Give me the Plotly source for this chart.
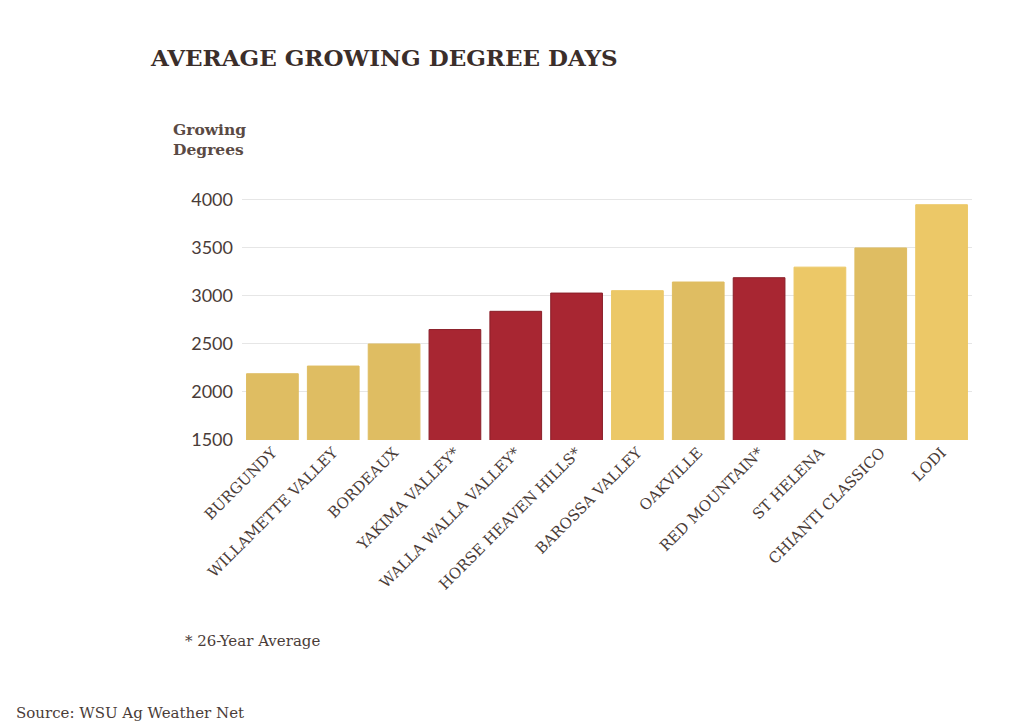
import plotly.graph_objects as go

REGIONS = [
    "BURGUNDY",
    "WILLAMETTE VALLEY",
    "BORDEAUX",
    "YAKIMA VALLEY*",
    "WALLA WALLA VALLEY*",
    "HORSE HEAVEN HILLS*",
    "BAROSSA VALLEY",
    "OAKVILLE",
    "RED MOUNTAIN*",
    "ST HELENA",
    "CHIANTI CLASSICO",
    "LODI",
]
GDD = [2190, 2270, 2500, 2650, 2840, 3030, 3055, 3145, 3190, 3300, 3500, 3950]
# W = Washington (red), D = darker gold, L = lighter gold
GROUPS = ["D", "D", "D", "W", "W", "W", "L", "D", "W", "L", "D", "L"]
Y_TICKS = [1500, 2000, 2500, 3000, 3500, 4000]

GROUP_COLORS = {"W": "#A82632", "D": "#DFBD62", "L": "#ECC867"}
GROUP_LINES = {"W": "#8A1E28", "D": "#DFBD62", "L": "#ECC867"}
TEXT = "#4A3C38"
FONT = "DejaVu Serif"

# the page body adds an 8px offset, so the layout is placed 8px up/left
OFF = 8
W, H = 1024, 725
L, R, T, B = 242 - OFF, 52 + OFF, 198 - OFF, 285 + OFF

fig = go.Figure()
fig.add_bar(
    x=REGIONS,
    y=GDD,
    marker_color=[GROUP_COLORS[g] for g in GROUPS],
    marker_line_color=[GROUP_LINES[g] for g in GROUPS],
    marker_line_width=1,
    showlegend=False,
)

fig.update_layout(
    width=W,
    height=H,
    paper_bgcolor="white",
    plot_bgcolor="white",
    margin={"l": L, "r": R, "t": T, "b": B},
    bargap=0.15,
    font={"family": FONT, "color": TEXT},
)
fig.update_xaxes(
    tickangle=-45,
    tickfont={"size": 15, "family": FONT, "color": TEXT},
    showgrid=False,
    showline=False,
    ticks="",
)
fig.update_yaxes(
    range=[1500, 4020],
    tickvals=Y_TICKS,
    tickfont={"size": 18, "family": "Lato", "color": TEXT},
    gridcolor="#E6E6E6",
    gridwidth=1,
    zeroline=False,
    ticks="",
    ticklabelstandoff=8,
)

notes = [
    ("AVERAGE GROWING DEGREE DAYS", 148, 57, 23, "#3B2E2A", True),
    ("Growing<br>Degrees", 171, 139, 15.5, "#5A4A44", True),
    ("* 26-Year Average", 183, 641, 15, TEXT, False),
    ("Source: WSU Ag Weather Net", 14, 713, 15, TEXT, False),
]
for text, px_x, px_y, size, color, bold in notes:
    fig.add_annotation(
        text=f"<b>{text}</b>" if bold else text,
        xref="paper",
        yref="paper",
        x=(px_x - OFF - L) / (W - L - R),
        y=(H - B - (px_y - OFF)) / (H - T - B),
        xanchor="left",
        yanchor="middle",
        align="left",
        showarrow=False,
        font={"size": size, "color": color, "family": FONT},
    )

fig.write_html("out.html")
